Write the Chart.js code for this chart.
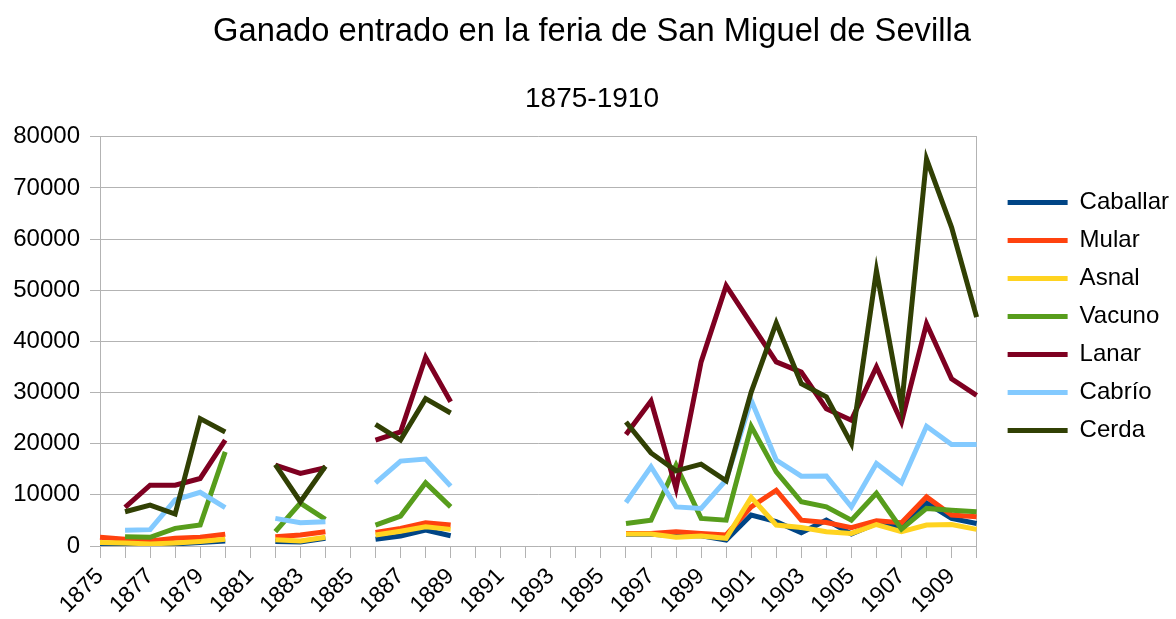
<!DOCTYPE html>
<html>
<head>
<meta charset="utf-8">
<script src="https://cdn.jsdelivr.net/npm/chart.js@4/dist/chart.umd.min.js"></script>
<style>
    html, body { margin: 0; padding: 0; background: #fff; }
    #wrap { width: 1176px; height: 619px; }
</style>
</head>
<body>
<div id="wrap"><canvas id="chart" width="1176" height="619"></canvas></div>
<script>
const n = null;

// years 1875-1910
const years = [];
for (let y = 1875; y <= 1910; y++) years.push(String(y));

const caballar = [300, 200, 100, 400, 700, 1000, n, 900, 800, 1500, n, 1300, 1950, 3100, 2000, n, n, n, n, n, n,
    2300, 2300, 2000, 2000, 1150, 6050, 4750, 2600, 5050, 2350, 4400, 3900, 8450, 5400, 4400];
const mular = [1700, 1300, 1000, 1500, 1700, 2300, n, 1800, 2150, 2800, n, 2650, 3450, 4550, 4100, n, n, n, n, n, n,
    2450, 2450, 2800, 2450, 2150, 7650, 10900, 5050, 4600, 3600, 4950, 4550, 9600, 6050, 5700];
const asnal = [700, 600, 400, 600, 900, 1300, n, 1200, 1000, 1700, n, 2150, 2900, 3750, 3250, n, n, n, n, n, n,
    2350, 2350, 1700, 1950, 1500, 9500, 4100, 3600, 2800, 2450, 4200, 2800, 4100, 4200, 3250];
const vacuno = [n, 1800, 1700, 3450, 4100, 18400, n, 2800, 8400, 5200, n, 4100, 5850, 12350, 7650, n, n, n, n, n, n,
    4400, 5050, 15800, 5400, 5050, 23400, 14500, 8650, 7650, 5050, 10300, 3300, 7350, 7000, 6700];
const lanar = [n, 7550, 11900, 11900, 13200, 20700, n, 15800, 14200, 15300, n, 20700, 22300, 36900, 28200, n, n, n, n, n, n,
    21800, 28350, 11250, 36000, 50900, 43450, 36000, 34000, 26850, 24600, 35000, 24250, 43450, 32700, 29450];
const cabrio = [n, 3100, 3200, 9000, 10500, 7500, n, 5400, 4550, 4750, n, 12350, 16600, 17000, 11700, n, n, n, n, n, n,
    8500, 15500, 7650, 7350, 12900, 28500, 16800, 13650, 13700, 7650, 16150, 12350, 23400, 19850, 19850];
const cerda = [n, 6700, 8000, 6250, 24900, 22300, n, 15900, 8650, 15600, n, 23800, 20700, 28800, 26000, n, n, n, n, n, n,
    24250, 18200, 14700, 16000, 12750, 30100, 43600, 31750, 29150, 20000, 53850, 27200, 75650, 62300, 44750];

const seriesNames = ["Caballar", "Mular", "Asnal", "Vacuno", "Lanar", "Cabrío", "Cerda"];
const seriesData = [caballar, mular, asnal, vacuno, lanar, cabrio, cerda];
const seriesColors = ["#004586", "#ff420e", "#ffd320", "#579d1c", "#7e0021", "#83caff", "#314004"];

const font = "'Liberation Sans', Arial, sans-serif";
const gridColor = "#b3b3b3";

let datasets = seriesNames.map((name, i) => ({
    label: name,
    data: seriesData[i],
    borderColor: seriesColors[i],
    backgroundColor: seriesColors[i],
    borderWidth: 5,
    pointRadius: 0,
    tension: 0,
    spanGaps: false,
    order: -i // later series on top, like the original
}));

new Chart(document.getElementById("chart"), {
    type: "line",
    data: { labels: years, datasets: datasets },
    options: {
        responsive: false,
        animation: false,
        layout: { padding: { left: 5, right: -3, top: 0, bottom: 0 } },
        plugins: {
            title: {
                display: true,
                text: "Ganado entrado en la feria de San Miguel de Sevilla",
                color: "#000",
                font: { family: font, size: 32.7, weight: "normal" },
                padding: { top: 12, bottom: 14 }
            },
            subtitle: {
                display: true,
                text: "1875-1910",
                color: "#000",
                font: { family: font, size: 28, weight: "normal" },
                padding: { top: 17, bottom: 21 }
            },
            legend: {
                position: "right",
                align: "center",
                // empty title only pushes the items down a little
                title: { display: true, text: "", font: { size: 1 }, padding: { top: 13, bottom: 0 } },
                labels: {
                    color: "#000",
                    font: { family: font, size: 24 },
                    boxWidth: 60,
                    boxHeight: 5,
                    padding: 14,
                    generateLabels(chart) {
                        return chart.data.datasets.map((ds, i) => ({
                            text: ds.label,
                            fillStyle: ds.borderColor,
                            strokeStyle: ds.borderColor,
                            lineWidth: 0,
                            hidden: false,
                            datasetIndex: i,
                            fontColor: "#000"
                        }));
                    }
                }
            },
            tooltip: { enabled: false }
        },
        scales: {
            x: {
                offset: false,
                grid: { drawOnChartArea: false, drawTicks: true, tickLength: 12, color: gridColor },
                border: { color: gridColor },
                ticks: {
                    autoSkip: false,
                    maxRotation: 45,
                    minRotation: 45,
                    color: "#000",
                    font: { family: font, size: 23 },
                    padding: 5,
                    callback(value, index) {
                        return index % 2 === 0 ? this.getLabelForValue(value) : "";
                    }
                },
                afterFit(scale) { scale.height = 73; }
            },
            y: {
                min: 0,
                max: 80000,
                grid: { color: gridColor, tickLength: 10 },
                border: { color: gridColor },
                ticks: {
                    stepSize: 10000,
                    color: "#000",
                    font: { family: font, size: 24 },
                    padding: 10,
                    callback(value) { return String(value); }
                },
                afterFit(scale) { scale.width = 95; }
            },
            yr: {
                position: "right",
                min: 0,
                max: 80000,
                grid: { drawOnChartArea: false, drawTicks: false },
                border: { color: gridColor },
                ticks: { display: false },
                afterFit(scale) { scale.width = 17; }
            }
        }
    }
});
</script>
</body>
</html>
